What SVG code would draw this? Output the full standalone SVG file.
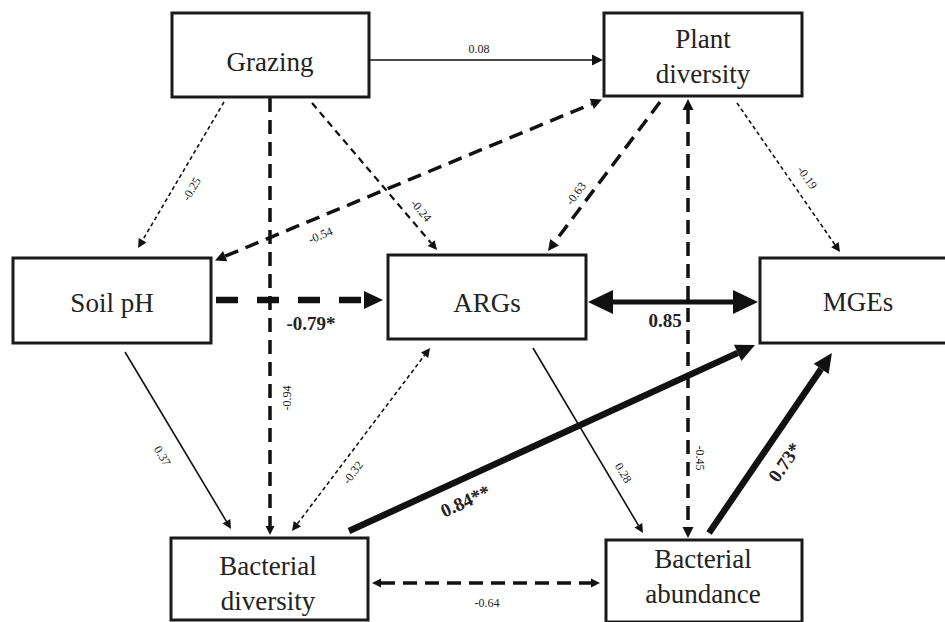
<svg xmlns="http://www.w3.org/2000/svg" width="945" height="622" viewBox="0 0 945 622">
<style>
  .box{fill:#fff;stroke:#1a1a1a;stroke-width:3}
  text{font-family:'Liberation Serif','Times New Roman','DejaVu Serif',serif;fill:#222}
  .nt{font-size:27px;text-anchor:middle}
  .lb{font-size:12px;text-anchor:middle}
  .bl{font-size:19px;font-weight:bold;text-anchor:middle}
  .c{fill:none;stroke:#111}
  .thin{stroke-width:1.6}
  .dot{stroke-width:1.6;stroke-dasharray:4 3}
  .med{stroke-width:2.2;stroke-dasharray:7 5}
  .dash{stroke-width:3.5;stroke-dasharray:14 8}
  .huge{stroke-width:6.5;stroke-dasharray:22 19}
  .bold{stroke-width:5}
  .heavy{stroke-width:6.5}
</style>
<defs>
  <marker id="aS" markerUnits="userSpaceOnUse" markerWidth="40" markerHeight="40" viewBox="-20 -20 40 40" refX="0" refY="0" orient="auto-start-reverse" overflow="visible"><path d="M0,-4.5 L9,0 L0,4.5 z" fill="#111"/></marker>
  <marker id="aM" markerUnits="userSpaceOnUse" markerWidth="40" markerHeight="40" viewBox="-20 -20 40 40" refX="0" refY="0" orient="auto-start-reverse" overflow="visible"><path d="M0,-5.5 L11,0 L0,5.5 z" fill="#111"/></marker>
  <marker id="aL" markerUnits="userSpaceOnUse" markerWidth="60" markerHeight="60" viewBox="-30 -30 60 60" refX="0" refY="0" orient="auto-start-reverse" overflow="visible"><path d="M0,-9 L19,0 L0,9 z" fill="#111"/></marker>
  <marker id="aX" markerUnits="userSpaceOnUse" markerWidth="60" markerHeight="60" viewBox="-30 -30 60 60" refX="0" refY="0" orient="auto-start-reverse" overflow="visible"><path d="M0,-12 L25,0 L0,12 z" fill="#111"/></marker>
</defs>
<rect width="945" height="622" fill="#fff"/>

<g id="connectors" font-family="Liberation Serif, Times New Roman, DejaVu Serif, serif">
  <!-- Grazing -> Plant diversity -->
  <line class="c thin" x1="370" y1="60" x2="592" y2="60" stroke-width="2" marker-end="url(#aM)"/>
  <text class="lb" x="479" y="53" font-size="13">0.08</text>
  <!-- Grazing -> Soil pH -->
  <line class="c dot" x1="224" y1="102" x2="142.6" y2="240.2" marker-end="url(#aS)"/>
  <text class="lb" transform="translate(195,191) rotate(-59.5)">-0.25</text>
  <!-- Grazing -> Bacterial diversity -->
  <line class="c dash" x1="270" y1="98" x2="270" y2="526" marker-end="url(#aS)"/>
  <text class="lb" transform="translate(291,398) rotate(-90)">-0.94</text>
  <!-- Grazing -> ARGs -->
  <line class="c med" x1="312" y1="103" x2="431.2" y2="243.1" marker-end="url(#aS)"/>
  <text class="lb" transform="translate(418,213) rotate(50)">-0.24</text>
  <!-- Plant diversity <-> Soil pH -->
  <line class="c dash" x1="225.2" y1="256.2" x2="591.8" y2="103.8" marker-start="url(#aM)" marker-end="url(#aM)"/>
  <text class="lb" transform="translate(322,239) rotate(-22.5)">-0.54</text>
  <!-- Plant diversity -> ARGs -->
  <line class="c dash" x1="660" y1="102" x2="554.6" y2="242.2" marker-end="url(#aM)"/>
  <text class="lb" transform="translate(579,196) rotate(-53)">-0.63</text>
  <!-- Plant diversity <-> Bacterial abundance -->
  <line class="c dash" x1="688" y1="110" x2="688" y2="527" marker-start="url(#aM)" marker-end="url(#aM)"/>
  <text class="lb" transform="translate(696,458) rotate(90)">-0.45</text>
  <!-- Plant diversity -> MGEs -->
  <line class="c dot" x1="737" y1="103" x2="834.9" y2="244.6" marker-end="url(#aS)"/>
  <text class="lb" transform="translate(804,180) rotate(55)">-0.19</text>
  <!-- Soil pH -> ARGs -->
  <line class="c huge" x1="216" y1="300" x2="364" y2="300" marker-end="url(#aL)"/>
  <text class="bl" x="311" y="330">-0.79*</text>
  <!-- ARGs <-> MGEs -->
  <line class="c bold" x1="613" y1="302" x2="733" y2="302" marker-start="url(#aX)" marker-end="url(#aX)"/>
  <text class="bl" x="665" y="327">0.85</text>
  <!-- Soil pH -> Bacterial diversity -->
  <line class="c thin" x1="125" y1="352" x2="226.4" y2="521.3" marker-end="url(#aS)"/>
  <text class="lb" transform="translate(159,458) rotate(59)">0.37</text>
  <!-- ARGs <-> Bacterial diversity -->
  <line class="c dot" x1="297.4" y1="523.8" x2="424.6" y2="355.2" marker-start="url(#aS)" marker-end="url(#aS)"/>
  <text class="lb" transform="translate(356,475) rotate(-53)">-0.32</text>
  <!-- Bacterial diversity -> MGEs -->
  <line class="c heavy" x1="349" y1="531" x2="737.7" y2="352.9" marker-end="url(#aL)"/>
  <text class="bl" transform="translate(468,507) rotate(-24.4)">0.84**</text>
  <!-- ARGs -> Bacterial abundance -->
  <line class="c thin" x1="533" y1="348" x2="638.4" y2="525.3" marker-end="url(#aS)"/>
  <text class="lb" transform="translate(620,475) rotate(59)">0.28</text>
  <!-- Bacterial abundance -> MGEs -->
  <line class="c heavy" x1="709" y1="533" x2="821.2" y2="368.8" marker-end="url(#aL)"/>
  <text class="bl" transform="translate(790,466) rotate(-55)">0.73*</text>
  <!-- Bacterial diversity <-> Bacterial abundance -->
  <line class="c dash" x1="381" y1="583" x2="591" y2="583" marker-start="url(#aS)" marker-end="url(#aS)"/>
  <text class="lb" x="487" y="607">-0.64</text>
</g>

<g id="grazing">
  <rect class="box" x="172" y="13" width="197" height="84"/>
  <text class="nt" x="270" y="71">Grazing</text>
</g>
<g id="plant-diversity">
  <rect class="box" x="604" y="13" width="198" height="83"/>
  <text class="nt" x="703" y="48">Plant</text>
  <text class="nt" x="703" y="83">diversity</text>
</g>
<g id="soil-ph">
  <rect class="box" x="13" y="258" width="198" height="85"/>
  <text class="nt" x="112" y="312">Soil pH</text>
</g>
<g id="args">
  <rect class="box" x="388" y="255" width="198" height="84"/>
  <text class="nt" x="487" y="312">ARGs</text>
</g>
<g id="mges">
  <rect class="box" x="760" y="258" width="200" height="85"/>
  <text class="nt" x="858" y="311">MGEs</text>
</g>
<g id="bacterial-diversity">
  <rect class="box" x="171" y="538" width="197" height="82"/>
  <text class="nt" x="268" y="575">Bacterial</text>
  <text class="nt" x="268" y="610">diversity</text>
</g>
<g id="bacterial-abundance">
  <rect class="box" x="606" y="540" width="196" height="82"/>
  <text class="nt" x="703" y="568">Bacterial</text>
  <text class="nt" x="703" y="603">abundance</text>
</g>
</svg>
